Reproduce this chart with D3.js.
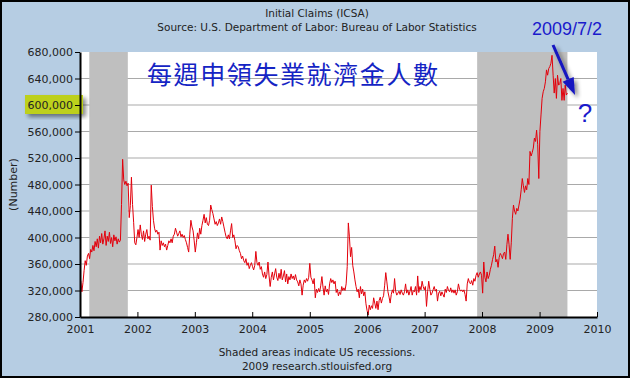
<!DOCTYPE html>
<html lang="en">
<head>
<meta charset="UTF-8">
<title>Initial Claims (ICSA)</title>
<script src="https://d3js.org/d3.v7.min.js"></script>
<style>
  body { margin: 0; }
  svg text { font-family: "DejaVu Sans", Verdana, sans-serif; fill: #222; }
  .line { fill: none; stroke: #e3000b; stroke-width: 1px; stroke-linejoin: round; }
  .grid line { stroke: #a9a9a9; stroke-width: 1.2px; }
</style>
</head>
<body>
<div id="chart"></div>
<script>

// weekly initial claims, thousands, week ending saturday (first week 2001-01-06)
var claims2001 = [335,318,332,350,365,358,372,376,368,382,378,388,380,394,386,398,384,402,392,406,
                  390,398,410,388,402,394,408,391,400,386,404,395,401,390,398,393,396,450,518,487,
                  480,485,478,482,430,448,491,450,423,392,389,400];
var claims2002 = [412,400,419,405,397,410,394,405,412,398,402,396,479,447,426,414,408,411,405,408,
                  381,395,388,392,386,390,381,388,395,392,398,392,402,405,414,408,402,406,410,401,
                  405,400,403,397,392,385,378,405,426,416,410,395];
var claims2003 = [378,392,407,398,414,405,418,426,435,422,430,420,418,426,449,442,436,428,420,424,
                  418,422,428,420,431,424,416,408,401,398,404,398,410,421,400,404,395,383,388,386,
                  380,376,368,372,365,362,368,358,362,353,358,362];
var claims2004 = [356,351,358,379,362,358,363,352,356,345,340,348,338,344,363,342,326,340,348,336,
                  345,353,340,335,346,338,352,336,342,350,333,345,330,341,336,345,338,342,336,344,
                  336,333,327,336,330,313,328,336,332,338,334,340];
var claims2005 = [361,340,336,330,338,309,322,317,323,318,328,341,325,313,327,318,322,314,330,338,
                  332,336,330,334,317,322,312,318,314,326,320,324,320,330,356,422,401,371,385,358,
                  348,336,326,318,322,309,326,315,322,312,318,300,290];
var claims2006 = [283,298,291,297,293,309,301,293,304,291,305,310,301,308,312,328,347,333,318,310,
                  301,314,321,316,338,319,313,316,319,314,321,316,313,318,330,316,321,313,319,326,
                  313,320,318,326,313,342,317,326,321,334,326,321];
var claims2007 = [326,296,318,334,322,313,316,321,326,319,322,304,316,319,312,318,314,310,322,317,
                  326,320,318,324,317,321,316,321,313,318,330,322,319,321,318,321,314,304,330,338,
                  332,330,335,328,338,334,343,347,340,345,348,343];
var claims2008 = [316,363,340,333,348,338,343,352,358,367,374,387,363,367,355,370,376,373,368,376,
                  378,367,389,405,389,367,392,429,449,440,435,444,440,449,458,472,489,478,468,478,
                  472,489,480,530,523,528,535,550,545,562,540,489];
var claims2009 = [560,585,610,620,625,635,653,645,655,658,663,675,645,618,640,610,645,630,632,640,
                  607,625,607,630,615,618];

var firstWeek = new Date(2001, 0, 6);

// NBER recessions
var recStart = [new Date(2001, 2, 1), new Date(2007, 11, 1)];
var recEnd   = [new Date(2001, 10, 1), new Date(2009, 5, 27)];

var yTicks = d3.range(280000, 680001, 40000);

var claims = [].concat(claims2001, claims2002, claims2003, claims2004, claims2005,
                       claims2006, claims2007, claims2008, claims2009);
var data = claims.map(function(v, i) {
  return { date: d3.timeDay.offset(firstWeek, 7 * i), value: v * 1000 };
});

var width = 630, height = 378;
var margin = {top: 52, right: 33, bottom: 61, left: 80};
var w = width - margin.left - margin.right,
    h = height - margin.top - margin.bottom;

var svg = d3.select("#chart").append("svg")
    .attr("width", width)
    .attr("height", height);

var defs = svg.append("defs");
var shadow = defs.append("filter").attr("id", "shadow")
    .attr("x", "-30%").attr("y", "-30%").attr("width", "160%").attr("height", "160%");
shadow.append("feDropShadow")
    .attr("dx", 3).attr("dy", 3).attr("stdDeviation", 2)
    .attr("flood-color", "#000").attr("flood-opacity", 0.45);

svg.append("rect")
    .attr("x", 1).attr("y", 1)
    .attr("width", width - 2).attr("height", height - 2)
    .attr("fill", "#b6cde3")
    .attr("stroke", "#000")
    .attr("stroke-width", 2);

svg.append("text")
    .attr("x", 317).attr("y", 17)
    .attr("text-anchor", "middle")
    .style("font-size", "10.5px")
    .text("Initial Claims (ICSA)");
svg.append("text")
    .attr("x", 317).attr("y", 31)
    .attr("text-anchor", "middle")
    .style("font-size", "10.5px")
    .text("Source: U.S. Department of Labor: Bureau of Labor Statistics");

var x = d3.scaleTime()
    .domain([new Date(2001, 0, 1), new Date(2010, 0, 1)])
    .range([0, w]);

var y = d3.scaleLinear()
    .domain([280000, 680000])
    .range([h, 0]);

var g = svg.append("g").attr("transform", "translate(" + margin.left + "," + margin.top + ")");

g.append("rect")
    .attr("width", w).attr("height", h)
    .attr("fill", "#fff");

g.append("g")
    .attr("class", "grid")
  .selectAll("line")
  .data(yTicks.slice(1, -1))
  .enter().append("line")
    .attr("x1", 0).attr("x2", w)
    .attr("y1", function(d) { return y(d); })
    .attr("y2", function(d) { return y(d); });

g.selectAll(".recession")
  .data(recStart)
  .enter().append("rect")
    .attr("class", "recession")
    .attr("x", function(d) { return x(d); })
    .attr("width", function(d, i) { return x(recEnd[i]) - x(d); })
    .attr("y", 0)
    .attr("height", h)
    .attr("fill", "#bfbfbf");

// chinese title sits on the plot
g.append("text")
    .attr("x", 67).attr("y", 32)
    .style("font-family", '"Noto Sans CJK TC", "Noto Sans CJK SC", sans-serif')
    .style("font-size", "25px")
    .style("letter-spacing", "1.6px")
    .style("fill", "#1424c4")
    .text("每週申領失業就濟金人數");

var line = d3.line()
    .x(function(d) { return x(d.date); })
    .y(function(d) { return y(d.value); });

g.append("path")
    .datum(data)
    .attr("class", "line")
    .attr("d", line);

// highlighted 600,000 label
g.append("rect")
    .attr("x", -55).attr("y", y(600000) - 10)
    .attr("width", 58).attr("height", 19)
    .attr("fill", "#bdd01a")
    .attr("filter", "url(#shadow)");

var yAxis = g.append("g")
    .call(d3.axisLeft(y)
      .tickValues(yTicks)
      .tickSize(5)
      .tickSizeOuter(0)
      .tickPadding(2)
      .tickFormat(d3.format(",")));
yAxis.selectAll("text").style("font-size", "11px").style("fill", "#222");
yAxis.select(".domain").attr("stroke-width", 2);

var xAxis = g.append("g")
    .attr("transform", "translate(0," + h + ")")
    .call(d3.axisBottom(x)
      .ticks(d3.timeYear)
      .tickSize(-5)
      .tickSizeOuter(0)
      .tickPadding(8)
      .tickFormat(d3.timeFormat("%Y")));
xAxis.selectAll("text").style("font-size", "11px").style("fill", "#222");
xAxis.select(".domain").attr("stroke-width", 2);

svg.append("text")
    .attr("transform", "translate(17," + (margin.top + h / 2) + ") rotate(-90)")
    .attr("text-anchor", "middle")
    .style("font-size", "11px")
    .text("(Number)");

svg.append("text")
    .attr("x", 317).attr("y", 356)
    .attr("text-anchor", "middle")
    .style("font-size", "10.5px")
    .text("Shaded areas indicate US recessions.");
svg.append("text")
    .attr("x", 317).attr("y", 370)
    .attr("text-anchor", "middle")
    .style("font-size", "10.5px")
    .text("2009 research.stlouisfed.org");

// annotation: last release date and arrow
svg.append("text")
    .attr("x", 532).attr("y", 35)
    .style("font-family", '"Liberation Sans", Arial, sans-serif')
    .style("font-size", "18px")
    .style("fill", "#1a1acc")
    .text("2009/7/2");

var a0 = [553, 45], a1 = [575, 95];
var ang = Math.atan2(a1[1] - a0[1], a1[0] - a0[0]);
var headLen = 17, headW = 6;
var bx = a1[0] - headLen * Math.cos(ang), by = a1[1] - headLen * Math.sin(ang);
var arrow = svg.append("g").attr("filter", "url(#shadow)");
arrow.append("line")
    .attr("x1", a0[0]).attr("y1", a0[1])
    .attr("x2", bx).attr("y2", by)
    .attr("stroke", "#1414c0")
    .attr("stroke-width", 3);
arrow.append("path")
    .attr("d", "M" + a1[0] + "," + a1[1] +
               "L" + (bx + headW * Math.sin(ang)) + "," + (by - headW * Math.cos(ang)) +
               "L" + (bx - headW * Math.sin(ang)) + "," + (by + headW * Math.cos(ang)) + "Z")
    .attr("fill", "#1414c0");

svg.append("text")
    .attr("x", 585).attr("y", 122)
    .attr("text-anchor", "middle")
    .style("font-family", '"Liberation Sans", Arial, sans-serif')
    .style("font-size", "26px")
    .style("fill", "#1a1acc")
    .text("?");

</script>
</body>
</html>
